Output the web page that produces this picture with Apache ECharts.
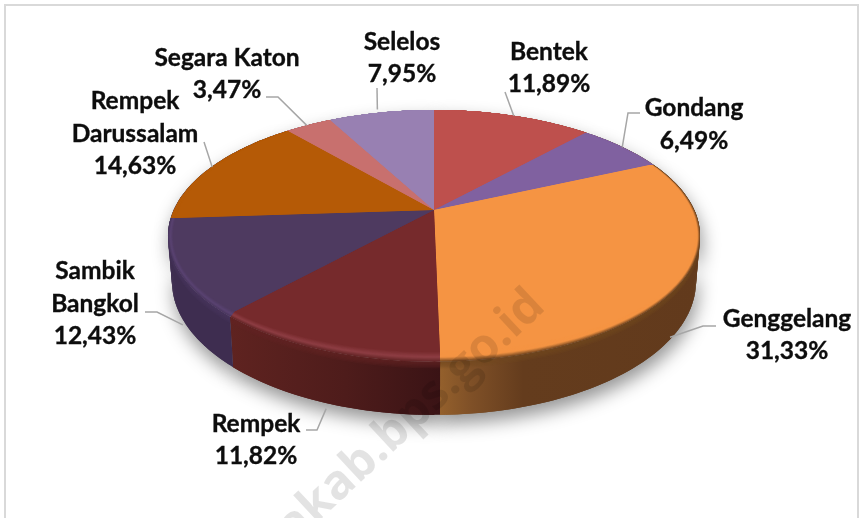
<!DOCTYPE html>
<html>
<head>
<meta charset="utf-8">
<style>html,body{margin:0;padding:0;background:#fff}#c{width:860px;height:518px}</style>
<script src="https://cdn.jsdelivr.net/npm/echarts@6/dist/echarts.min.js"></script>
</head>
<body>
<div id="c"></div>
<script>
// ---- data ----
const categories = ['Bentek','Gondang','Genggelang','Rempek','Sambik\nBangkol','Rempek\nDarussalam','Segara Katon','Selelos'];
const values = [11.89, 6.49, 31.33, 11.82, 12.43, 14.63, 3.47, 7.95];

// ---- colours ----
const faceColors = ['#BE504D','#8061A0','#F59443','#762A2C','#4E3A60','#B55A06','#C8706E','#9880B2'];
const rimColors  = ['#BE504D','#8061A0','#F59443','#8E3E44','#5A4372','#B55A06','#C8706E','#9880B2'];
const edgeColors = ['#BE504D','#8061A0','#744721','#632526','#4A375E','#B55A06','#C8706E','#9880B2'];
const lipColors  = [null,null,'#744721','#632526','#4A375E',null,null,null];
const wallStops  = [
  [[0,'#623A1C'],[1,'#623A1C']],
  [[0,'#623A1C'],[1,'#623A1C']],
  [[0,'#94602C'],[0.12,'#7F5027'],[0.32,'#643C1D'],[1,'#623A1C']],
  [[0,'#5F2320'],[0.55,'#4E1C1B'],[1,'#3A1315']],
  [[0,'#3E2D50'],[1,'#3E2D50']],
  [[0,'#3E2D50'],[1,'#3E2D50']],
  [[0,'#3E2D50'],[1,'#3E2D50']],
  [[0,'#3E2D50'],[1,'#3E2D50']]
];

// ---- layout of the perspective pie ----
const apexX = 434, apexY = 210;
const radX = 260.3, radY = 120.6, persp = 0.206;
const depth = 43.9, baseScale = 0.985, rimWidth = 0.065;

// label block centre and leader line (offset of the start, elbow points)
const labelPos = [[549,68],[694,124.5],[787,335],[256,440],[95,304],[135,134],[227,74],[402,58]];
const leaderOnWall = [false,false,true,true,true,false,false,false];
const leaderStart = [[0,0],[-1,0],[-7,6],[2,6],[2,9],[1,0],[0,0],[-3,-3]];
const leaderBends = [
  [[505,92]],
  [[628,113],[640,113]],
  [[703,326],[716,326]],
  [[317,430],[306,430]],
  [[157,312],[145,312]],
  [[204,142]],
  [[278,97],[266,97]],
  [[377,88]]
];

const total = values.reduce((a,b)=>a+b,0);
const rad = d => d*Math.PI/180;
const startAngle = i => values.slice(0,i).reduce((a,b)=>a+b,0)/total*360;

function topPoint(t, e){
  const s=Math.sin(rad(t)), c=Math.cos(rad(t)), w=1+persp*c;
  const fx = 1-(e||0)*0.3, fy = 1-(e||0)*Math.max(0,-c);
  return [apexX+fx*radX*s/w, apexY-fy*radY*c/w];
}
function basePoint(t){
  const s=Math.sin(rad(t)), c=Math.cos(rad(t)), w=1+persp*c;
  return [apexX+baseScale*radX*s/w, apexY-baseScale*radY*c/w+depth/w];
}
function arc(a0,a1,fn,e){
  const n=Math.max(2,Math.ceil((a1-a0)));
  const out=[];
  for(let k=0;k<=n;k++) out.push(fn(a0+(a1-a0)*k/n,e));
  return out;
}
function hex(c){return [1,3,5].map(i=>parseInt(c.substr(i,2),16));}
function mix(a,b,t){
  const A=hex(a),B=hex(b);
  return 'rgb('+A.map((v,i)=>Math.round(v+(B[i]-v)*t)).join(',')+')';
}

function renderSlice(params, api){
  const i = api.value(0), v = api.value(1);
  const a0 = startAngle(i), a1 = a0 + v/total*360, mid = (a0+a1)/2;
  const kids = [];
  const rim = arc(a0,a1,topPoint,0);
  const base = arc(a0,a1,basePoint);
  const wall = rim.concat(base.slice().reverse());

  // soft ground shadow, below everything
  kids.push({type:'polygon',z2:0,shape:{points:wall},
    style:{fill:'#888',shadowBlur:18,shadowOffsetX:2,shadowOffsetY:9,shadowColor:'rgba(0,0,0,0.42)'}});

  // side wall, swept in overlapping quads so that the silhouette stays full
  const xs = rim.concat(base).map(p=>p[0]);
  const wallFill = {type:'linear',global:true,x:Math.min(...xs),y:0,x2:Math.max(...xs),y2:0,
    colorStops:wallStops[i].map(s=>({offset:s[0],color:s[1]}))};
  for(let k=0;k<rim.length-1;k++){
    const j = Math.min(k+2,rim.length-1);
    kids.push({type:'polygon',z2:2,shape:{points:[rim[k],rim[j],base[j],base[k]]},style:{fill:wallFill}});
  }

  // soft lip of the wall just under the top face
  if(lipColors[i]){
    for(let k=5;k>=1;k--){
      const lower = rim.map(p=>[p[0],p[1]+k*1.3]).reverse();
      kids.push({type:'polygon',z2:3,shape:{points:rim.concat(lower)},
        style:{fill:lipColors[i],opacity:0.22}});
    }
  }

  // top face: outermost shade first, then nested towards the face colour
  const layers = 12;
  for(let k=0;k<=layers;k++){
    const p = k/layers;
    const col = p<0.45 ? mix(edgeColors[i],rimColors[i],p/0.45) : mix(rimColors[i],faceColors[i],(p-0.45)/0.55);
    const pts = [[apexX,apexY]].concat(arc(a0,a1,topPoint,p*rimWidth));
    kids.push({type:'polygon',z2:4+k,shape:{points:pts},style:{fill:col}});
  }

  // leader line
  const start = (leaderOnWall[i] ? basePoint(mid) : topPoint(mid,0));
  const line = [[start[0]+leaderStart[i][0],start[1]+leaderStart[i][1]]].concat(leaderBends[i]);
  kids.push({type:'polyline',z2:20,shape:{points:line},style:{fill:null,stroke:'#A6A6A6',lineWidth:1.5}});

  // label
  kids.push({type:'text',z2:21,style:{
    text: categories[i]+'\n'+v.toFixed(2).replace('.',',')+'%',
    x: labelPos[i][0], y: labelPos[i][1],
    align:'center', verticalAlign:'middle',
    font:'bold 24.5px Lato', lineHeight:32.5, fill:'#0D0D0D',
    stroke:'#0D0D0D', lineWidth:0.35
  }});
  return {type:'group',children:kids};
}

const chart = echarts.init(document.getElementById('c'),null,{renderer:'canvas'});
chart.setOption({
  animation:false,
  backgroundColor:'#fff',
  graphic:[
    {type:'rect',z:-1,silent:true,shape:{x:5,y:5,width:853,height:620},style:{fill:'#fff',stroke:'#D9D9D9',lineWidth:2}},
    {type:'text',z:100,silent:true,x:554,y:316,rotation:rad(43),
     style:{text:'https://lombokutarakab.bps.go.id',align:'right',verticalAlign:'bottom',font:'bold 48px "Open Sans"',fill:'rgba(0,0,0,0.11)'}}
  ],
  series:[{
    type:'custom',
    coordinateSystem:'none',
    silent:true,
    clip:false,
    renderItem:renderSlice,
    data:categories.map((c,i)=>({name:c,value:[i,values[i]]}))
  }]
});
</script>
</body>
</html>
